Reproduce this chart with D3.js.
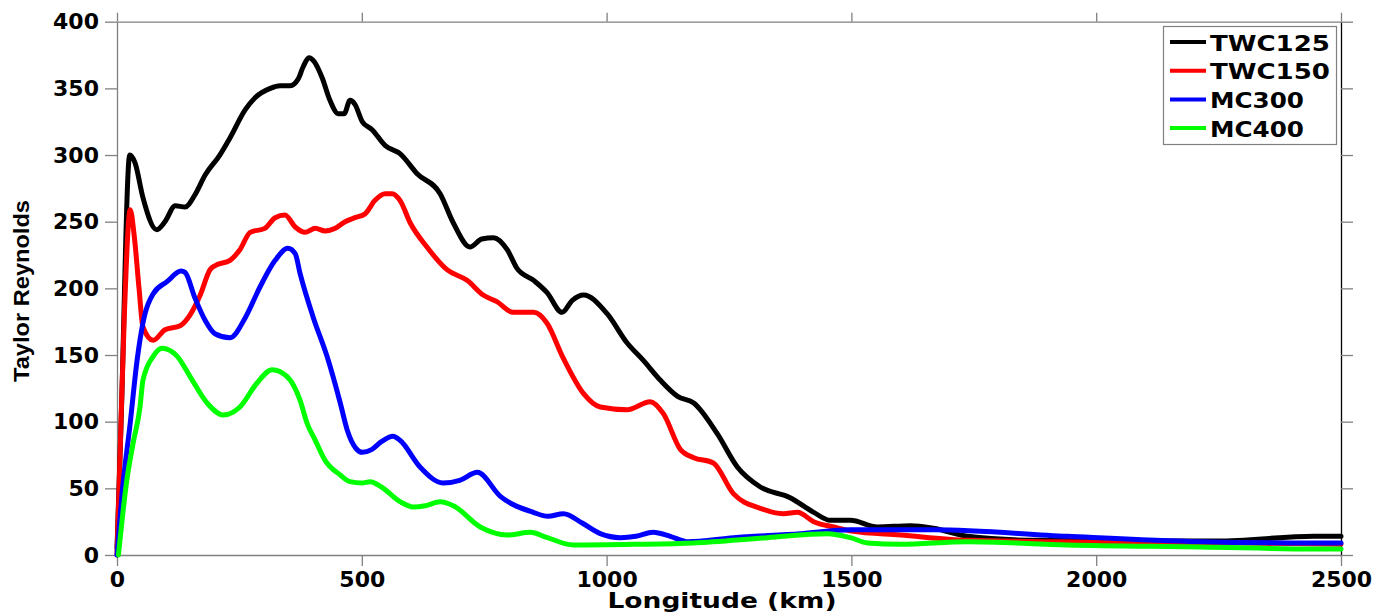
<!DOCTYPE html>
<html><head><meta charset="utf-8">
<script src="https://cdn.jsdelivr.net/npm/d3@7/dist/d3.min.js"></script>
<style>
body{margin:0;background:#fff;}
svg{display:block;}
.tick text{font-family:"DejaVu Sans";font-weight:bold;font-size:22px;fill:#000;}
</style></head>
<body><svg id="c" width="1378" height="615"></svg>
<script>
// ---- data: [longitude km, Taylor Reynolds] ----
const twc125 = [[0,5],[8,95],[26,300],[37,294],[53,268],[81,244],[98,250],[119,262],[139,261],[159,270],[180,285],[210,300],[231,313],[262,334],[282,343],[313,350],[333,352],[354,352],[370,357],[380,366],[392,373],[403,370],[419,358],[435,341],[452,331],[464,331],[476,341],[486,338],[501,325],[521,319],[548,307],[578,301],[613,286],[660,271],[687,249],[721,231],[745,237],[769,238],[797,229],[817,215],[851,206],[878,197],[909,182],[930,191],[953,195],[1001,181],[1042,159],[1075,146],[1110,131],[1145,119],[1178,114],[1226,91],[1267,66],[1314,51],[1375,43],[1423,32],[1457,26],[1498,26],[1553,21],[1621,22],[1668,20],[1737,14],[1873,11],[2077,10.5],[2248,10.5],[2445,14],[2500,14]];
const twc150 = [[0,0],[5,60],[15,180],[27,259],[35,240],[45,200],[53,171],[74,161],[98,169],[129,172],[149,180],[170,195],[190,214],[200,217],[231,221],[251,229],[272,242],[302,245],[323,253],[343,255],[364,246],[384,242],[405,245],[425,243],[446,245],[466,250],[486,253],[507,256],[527,266],[548,271],[562,271],[578,266],[599,249],[633,231],[674,214],[715,206],[748,195],[776,190],[809,182],[851,182],[878,174],[911,148],[953,121],[987,111],[1042,109],[1089,115],[1116,106],[1151,79],[1178,73],[1218,69],[1259,46],[1314,35],[1361,31],[1390,32],[1423,25],[1464,21],[1500,18],[1600,15],[1737,11],[1900,10],[2100,9.5],[2300,9],[2500,8]];
const mc300 = [[0,0],[10,45],[27,99],[41,146],[53,174],[74,196],[102,205],[131,213],[139,212],[159,193],[180,176],[200,166],[231,163],[262,178],[292,201],[323,221],[349,230],[364,226],[374,211],[401,178],[429,149],[456,114],[470,94],[488,80],[501,77],[520,79],[540,85],[564,89],[578,86],[619,66],[666,54],[700,56],[736,62],[783,44],[850,32],[880,29],[912,31],[950,24],[987,16],[1028,13],[1060,14],[1095,17],[1130,14],[1165,10],[1259,13],[1396,16],[1498,19],[1668,19],[1941,14],[2213,10],[2445,9],[2500,9]];
const mc400 = [[3,0],[20,56],[33,84],[47,111],[53,131],[74,149],[92,155],[123,149],[149,134],[184,114],[217,105],[251,111],[286,129],[317,139],[347,134],[374,116],[388,99],[405,86],[425,71],[456,60],[476,55],[500,54],[517,55],[540,51],[578,40],[605,36],[630,37],[660,40],[687,37],[742,21],[797,15],[844,17],[879,13],[932,7.5],[1055,8],[1177,9],[1328,13],[1451,16],[1498,13],[1533,9],[1600,8],[1737,10],[1941,7.5],[2213,6],[2445,4.5],[2500,4.5]];
const seriesNames = ["TWC125","TWC150","MC300","MC400"];
const seriesColors = ["#000000","#ff0000","#0000ff","#00ff00"];
const seriesData = [twc125, twc150, mc300, mc400];
const xTicks = [0,500,1000,1500,2000,2500];
const yTicks = [0,50,100,150,200,250,300,350,400];
const xLabel = "Longitude (km)";
const yLabel = "Taylor Reynolds";

// ---- layout ----
const L=117, R=1341, T=21.7, B=555;
const svg = d3.select("#c");
const x = d3.scaleLinear().domain([0,2500]).range([L,R]);
const y = d3.scaleLinear().domain([0,400]).range([B,T]);
const axisColor = "#808080";

function styleAxis(g){
  g.selectAll("path.domain").attr("stroke",axisColor).attr("stroke-width",1.3);
  g.selectAll(".tick line").attr("stroke",axisColor).attr("stroke-width",1.3);
}

svg.append("g").attr("transform",`translate(0,${B})`)
  .call(d3.axisBottom(x).tickValues(xTicks).tickSize(11).tickSizeOuter(0).tickPadding(5).tickFormat(d3.format("d")))
  .call(styleAxis);
svg.append("g").attr("transform",`translate(0,${T})`)
  .call(d3.axisTop(x).tickValues(xTicks).tickSize(9).tickSizeOuter(0).tickFormat(""))
  .call(styleAxis);
svg.append("g").attr("transform",`translate(${L},0)`)
  .call(d3.axisLeft(y).tickValues(yTicks).tickSize(12).tickSizeOuter(0).tickPadding(6).tickFormat(d3.format("d")))
  .call(styleAxis);
const ra = svg.append("g").attr("transform",`translate(${R},0)`)
  .call(d3.axisRight(y).tickValues(yTicks).tickSize(12).tickSizeOuter(0).tickFormat(""))
  .call(styleAxis);
ra.select("path.domain").attr("stroke","#000");

// ---- lines ----
const line = d3.line().x(d=>x(d[0])).y(d=>y(d[1])).curve(d3.curveMonotoneX);
const plot = svg.append("g");
seriesData.forEach((s,i)=>{
  plot.append("path").datum(s).attr("d",line)
    .attr("fill","none").attr("stroke",seriesColors[i])
    .attr("stroke-width",5).attr("stroke-linejoin","round").attr("stroke-linecap","round");
});

// ---- axis titles ----
svg.append("text").attr("x",(L+R)/2-7).attr("y",608)
  .attr("text-anchor","middle").attr("font-family","DejaVu Sans").attr("font-weight","bold")
  .attr("font-size",21).attr("textLength",229).attr("lengthAdjust","spacingAndGlyphs")
  .text(xLabel);
svg.append("text").attr("transform",`translate(29,291) rotate(-90)`)
  .attr("text-anchor","middle").attr("font-family","Liberation Sans").attr("font-weight","bold")
  .attr("font-size",22).attr("textLength",182).attr("lengthAdjust","spacingAndGlyphs")
  .text(yLabel);

// ---- legend ----
const leg = svg.append("g");
leg.append("rect").attr("x",1163.5).attr("y",26.5).attr("width",173).attr("height",118)
  .attr("fill","#fff").attr("stroke",axisColor).attr("stroke-width",1.2);
const legWidths = [120,120,94,94];
seriesNames.forEach((n,i)=>{
  const cy = 42 + i*28.7;
  leg.append("line").attr("x1",1170).attr("x2",1206).attr("y1",cy).attr("y2",cy)
    .attr("stroke",seriesColors[i]).attr("stroke-width",4);
  leg.append("text").attr("x",1210).attr("y",cy+8.5)
    .attr("font-family","DejaVu Sans").attr("font-weight","bold").attr("font-size",22)
    .attr("textLength",legWidths[i]).attr("lengthAdjust","spacingAndGlyphs").text(n);
});
</script></body></html>
